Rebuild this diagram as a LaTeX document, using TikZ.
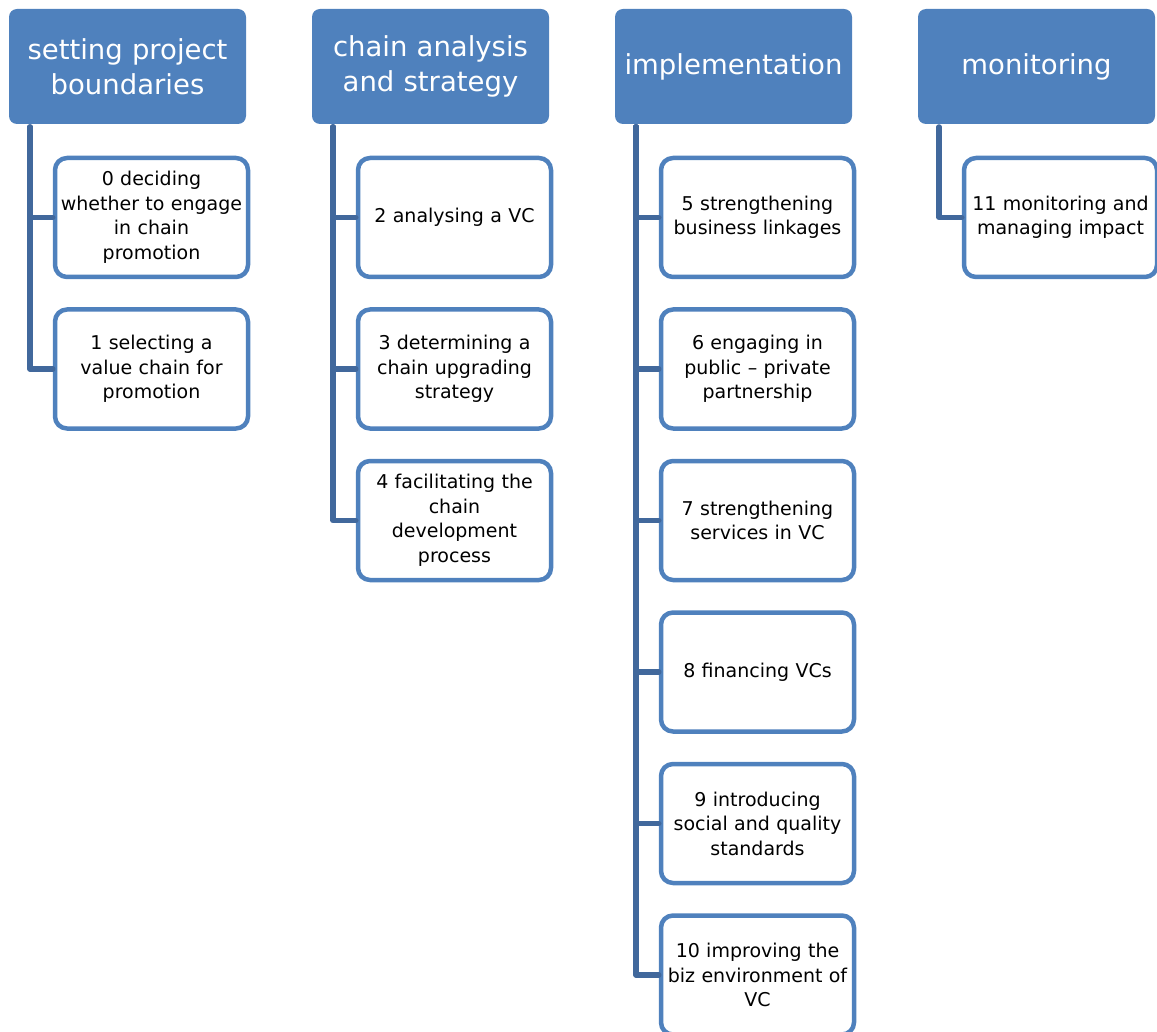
\documentclass[tikz,border=0pt]{standalone}
\usepackage{fontspec}
\setmainfont{DejaVu Sans}
\definecolor{boxblue}{HTML}{4F81BD}
\definecolor{lineblue}{HTML}{41689C}
\begin{document}
\begin{tikzpicture}[x=1pt,y=-1pt,line join=round,line cap=round]
    \def\dx{303}\def\dy{151.5}
    \tikzset{h/.style={fill=boxblue,text=white,rounded corners=8pt,minimum width=237pt,minimum height=115pt,text width=230pt,align=center,inner sep=0pt,font=\fontsize{27.5}{35}\selectfont},
        c/.style={draw=boxblue,line width=4.5pt,fill=white,rounded corners=12pt,minimum width=193pt,minimum height=119pt,text width=188pt,align=center,inner sep=0pt,font=\fontsize{19}{24.5}\selectfont},
        l/.style={draw=lineblue,line width=5.5pt}}
    \useasboundingbox (0,0) rectangle (1157,1032);

    % header boxes
    \foreach \i/\t in {0/{setting project\\boundaries},1/{chain analysis\\and strategy},2/{implementation},3/{monitoring}}{
        \node[h] (H\i) at ({127.5+\i*\dx},66.5) {\t};
        \coordinate (T\i) at ({30+\i*\dx},127);
    }

    % sub steps
    \foreach \i/\j/\t in {0/0/{0 deciding\\whether to engage\\in chain\\promotion},0/1/{1 selecting a\\value chain for\\promotion},
        1/0/{2 analysing a VC},1/1/{3 determining a\\chain upgrading\\strategy},1/2/{4 facilitating the\\chain\\development\\process},
        2/0/{5 strengthening\\business linkages},2/1/{6 engaging in\\public – private\\partnership},2/2/{7 strengthening\\services in VC},
        2/3/{8 financing VCs},2/4/{9 introducing\\social and quality\\standards},2/5/{10 improving the\\biz environment of\\VC},
        3/0/{11 monitoring and\\managing impact}}{
        \node[c] (S\i\j) at ({151.5+\i*\dx},{217.5+\j*\dy}) {\t};
    }

    % connectors
    \foreach \x/\y in {T0/S00,T0/S01,T1/S10,T1/S11,T1/S12,T2/S20,T2/S21,T2/S22,T2/S23,T2/S24,T2/S25,T3/S30}{
        \draw[l] (\x)|-(\y.west);	}
\end{tikzpicture}
\end{document}
